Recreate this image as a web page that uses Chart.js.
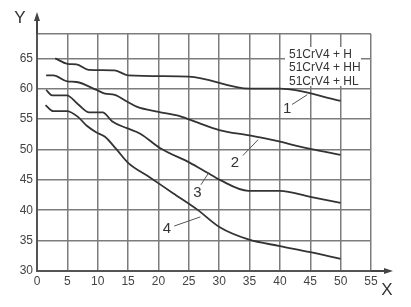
<!DOCTYPE html>
<html>
<head>
<meta charset="utf-8">
<script src="https://cdn.jsdelivr.net/npm/chart.js@4/dist/chart.umd.min.js"></script>
<style>
  html, body { margin: 0; padding: 0; background: #fff; }
  canvas { display: block; }
</style>
</head>
<body>
<canvas id="hardChart" width="411" height="307"></canvas>
<script>
// curve values (x, y)
const curve1X = [3, 5, 6.5, 8.5, 12.8, 15, 25, 35, 40, 50];
const curve1Y = [65, 64.1, 64, 63.1, 63, 62.2, 62, 60, 60, 58];

const curve2X = [1.5, 2.7, 5, 6.5, 9.8, 11.2, 12.8, 14.8, 16.5, 20, 23.5, 26.5, 30, 35, 38.5, 45, 50];
const curve2Y = [62.2, 62.2, 61.2, 61.1, 59.8, 59.2, 59, 57.9, 57, 56.2, 55.5, 54.4, 53.2, 52.3, 51.6, 50.1, 49.1];

const curve3X = [1.5, 2.5, 4.9, 6.8, 8.6, 10.8, 12.4, 14.8, 17, 20.3, 25.2, 28, 30.1, 34.8, 40, 45, 50];
const curve3Y = [59.8, 58.9, 58.9, 57.4, 56.1, 56.1, 54.6, 53.5, 52.6, 50.2, 47.8, 46.2, 45, 43.2, 43.2, 42.2, 41.2];

const curve4X = [1.4, 2.7, 4.9, 6.7, 8.2, 9.8, 11.2, 13.1, 15, 18.6, 22.4, 26.4, 30.1, 34.8, 40, 45, 50];
const curve4Y = [57.3, 56.3, 56.3, 55.4, 53.9, 52.8, 52.1, 50, 47.8, 45.4, 42.8, 40.1, 37.2, 35.2, 34.1, 33.1, 32];

const curveNames = ["1", "2", "3", "4"];
const legendLines = ["51CrV4 + H", "51CrV4 + HH", "51CrV4 + HL"];

const xTicks = [0, 5, 10, 15, 20, 25, 30, 35, 40, 45, 50, 55];
const yTicks = [30, 35, 40, 45, 50, 55, 60, 65];

// where the numbers 1-4 sit, in data units, with their leader lines
const curveTags = [
    { text: "1", at: [41.2, 56.6], from: [42, 57.4], to: [44.5, 59.0] },
    { text: "2", at: [32.6, 47.8], from: [33.9, 49], to: [36.4, 51.6] },
    { text: "3", at: [26.4, 42.9], from: [27, 44.2], to: [28.3, 46.2] },
    { text: "4", at: [21.4, 36.9], from: [22.6, 37.4], to: [26.9, 38.9] }
];

const FONT = "'Liberation Sans', Arial, sans-serif";
const INK = "#333";

function toPoints(xs, ys) {
    return xs.map((x, i) => ({ x: x, y: ys[i] }));
}

const curves = [[curve1X, curve1Y], [curve2X, curve2Y], [curve3X, curve3Y], [curve4X, curve4Y]];

const extras = {
    id: "extras",
    beforeDraw(chart) {
        const ctx = chart.ctx;
        ctx.save();
        ctx.fillStyle = "#fff";
        ctx.fillRect(0, 0, chart.width, chart.height);
        ctx.restore();
    },
    afterDatasetsDraw(chart) {
        const { ctx, chartArea: a, scales: { x, y } } = chart;
        ctx.save();

        // axis arrows
        ctx.strokeStyle = "#444";
        ctx.fillStyle = "#444";
        ctx.lineWidth = 2;
        ctx.beginPath();
        ctx.moveTo(a.left, a.top);
        ctx.lineTo(a.left, 18);
        ctx.moveTo(a.right, a.bottom);
        ctx.lineTo(388, a.bottom);
        ctx.stroke();
        ctx.beginPath();
        ctx.moveTo(a.left, 12);
        ctx.lineTo(a.left - 3, 21);
        ctx.lineTo(a.left + 3, 21);
        ctx.closePath();
        ctx.fill();
        ctx.beginPath();
        ctx.moveTo(393, a.bottom);
        ctx.lineTo(384, a.bottom - 3);
        ctx.lineTo(384, a.bottom + 3);
        ctx.closePath();
        ctx.fill();

        // axis letters
        ctx.fillStyle = INK;
        ctx.font = "17px " + FONT;
        ctx.textAlign = "center";
        ctx.textBaseline = "middle";
        ctx.fillText("Y", 20, 18);
        ctx.fillText("X", 387, 290);

        // legend text block over the grid
        ctx.fillStyle = "#fff";
        ctx.fillRect(285, 47, 76, 39);
        ctx.fillStyle = INK;
        ctx.font = "12px " + FONT;
        ctx.textAlign = "left";
        legendLines.forEach((t, i) => ctx.fillText(t, 289, 54.5 + i * 13.5));

        // curve numbers with leader lines
        ctx.strokeStyle = "#555";
        ctx.lineWidth = 1;
        ctx.font = "15px " + FONT;
        ctx.textAlign = "center";
        curveTags.forEach(tag => {
            ctx.beginPath();
            ctx.moveTo(x.getPixelForValue(tag.from[0]), y.getPixelForValue(tag.from[1]));
            ctx.lineTo(x.getPixelForValue(tag.to[0]), y.getPixelForValue(tag.to[1]));
            ctx.stroke();
            ctx.fillText(tag.text, x.getPixelForValue(tag.at[0]), y.getPixelForValue(tag.at[1]));
        });

        ctx.restore();
    }
};

new Chart(document.getElementById("hardChart"), {
    type: "line",
    data: {
        datasets: curves.map((c, i) => ({
            label: curveNames[i],
            data: toPoints(c[0], c[1]),
            borderColor: INK,
            borderWidth: 1.8,
            pointRadius: 0,
            fill: false,
            cubicInterpolationMode: "monotone"
        }))
    },
    options: {
        responsive: false,
        animation: false,
        layout: { padding: { top: 34, right: 40, left: 0, bottom: 0 } },
        plugins: {
            legend: { display: false },
            tooltip: { enabled: false }
        },
        scales: {
            x: {
                type: "linear",
                min: 0,
                max: 55,
                afterFit(s) { s.height = 36; },
                afterBuildTicks(s) { s.ticks = xTicks.map(v => ({ value: v })); },
                ticks: {
                    color: "#444",
                    font: { family: FONT, size: 12 },
                    padding: 3,
                    maxRotation: 0
                },
                grid: { color: "#7c7c7c", lineWidth: 1.5, drawTicks: false },
                border: { color: "#555", width: 2 }
            },
            y: {
                min: 30,
                max: 69,
                afterFit(s) { s.width = 37; },
                afterBuildTicks(s) { s.ticks = yTicks.concat([69]).map(v => ({ value: v })); },
                ticks: {
                    color: "#444",
                    font: { family: FONT, size: 12 },
                    padding: 4,
                    callback: v => (yTicks.includes(v) ? v : "")
                },
                grid: { color: "#7c7c7c", lineWidth: 1.5, drawTicks: false },
                border: { color: "#555", width: 2 }
            }
        }
    },
    plugins: [extras]
});
</script>
</body>
</html>
